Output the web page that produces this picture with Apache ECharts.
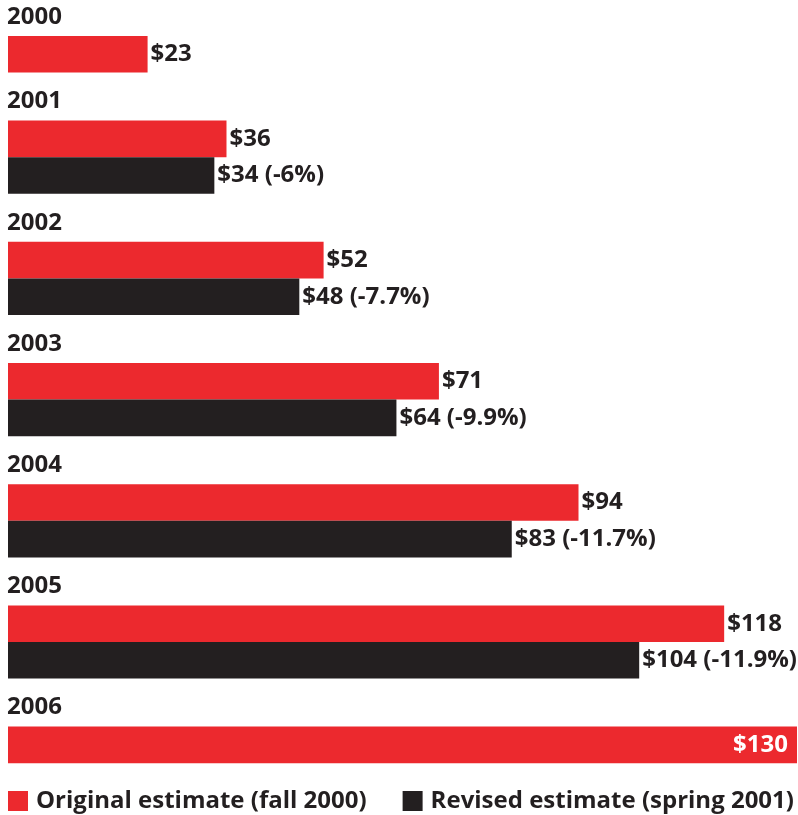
<!DOCTYPE html>
<html>
<head>
<meta charset="utf-8">
<title>Estimates by year</title>
<script src="https://cdn.jsdelivr.net/npm/echarts@6/dist/echarts.min.js"></script>
<style>
  html, body { margin: 0; padding: 0; background: #ffffff; }
  #chart { width: 798px; height: 815px; }
</style>
</head>
<body>
<div id="chart"></div>
<script>
// Values, in dollars
const years = ['2000', '2001', '2002', '2003', '2004', '2005', '2006'];
const original = [23, 36, 52, 71, 94, 118, 130];
const revised = [null, 34, 48, 64, 83, 104, null];
const revisedChange = ['', '-6%', '-7.7%', '-9.9%', '-11.7%', '-11.9%', ''];
const seriesNames = ['Original estimate (fall 2000)', 'Revised estimate (spring 2001)'];

const RED = '#ec292e';
const DARK = '#231f20';
const FONT = 'Open Sans';
const FONT_SIZE = 24;
const X_MAX = 130;

// Layout of the stacked year blocks
const BAR_H = 36.6;
const GAP_H = 48;
const FIRST_TOP = 36;
const LEFT = 8;
const RIGHT = 1;

const chart = echarts.init(document.getElementById('chart'), null, { renderer: 'canvas' });

const grids = [], xAxes = [], yAxes = [], series = [], titles = [];
let blockTop = FIRST_TOP;

years.forEach((year, i) => {
  const hasRev = revised[i] != null;
  const nBars = hasRev ? 2 : 1;
  const h = nBars * BAR_H;

  grids.push({ left: LEFT, right: RIGHT, top: blockTop, height: h, containLabel: false });
  xAxes.push({
    gridIndex: i, type: 'value', min: 0, max: X_MAX,
    show: false
  });
  // category order is bottom-to-top; the original estimate sits on top
  const cats = hasRev ? ['rev', 'orig'] : ['orig'];
  yAxes.push({
    gridIndex: i, type: 'category', data: cats,
    axisLine: { show: false }, axisTick: { show: false },
    axisLabel: { show: false }, splitLine: { show: false }
  });

  titles.push({
    text: year, left: LEFT - 1, top: blockTop - 31, padding: 0,
    textStyle: { fontFamily: FONT, fontSize: FONT_SIZE, fontWeight: 'bold', color: DARK }
  });

  const fits = original[i] < X_MAX * 0.95;
  const origItem = {
    value: original[i],
    label: fits ? {} : { position: 'insideRight', distance: 9, color: '#ffffff' }
  };
  const origData = hasRev ? ['-', origItem] : [origItem];

  series.push({
    name: seriesNames[0], type: 'bar',
    xAxisIndex: i, yAxisIndex: i,
    data: origData,
    barWidth: '100%', barGap: '-100%',
    itemStyle: { color: RED },
    label: {
      show: true, position: 'right', distance: 3,
      fontFamily: FONT, fontSize: FONT_SIZE, fontWeight: 'bold', color: DARK,
      formatter: p => '$' + p.value
    },
    silent: true
  });

  if (hasRev) {
    series.push({
      name: seriesNames[1], type: 'bar',
      xAxisIndex: i, yAxisIndex: i,
      data: [revised[i], '-'],
      barWidth: '100%', barGap: '-100%',
      itemStyle: { color: DARK },
      label: {
        show: true, position: 'right', distance: 3,
        fontFamily: FONT, fontSize: FONT_SIZE, fontWeight: 'bold', color: DARK,
        formatter: p => '$' + p.value + ' (' + revisedChange[i] + ')'
      },
      silent: true
    });
  }

  blockTop += h + GAP_H;
});

chart.setOption({
  backgroundColor: '#ffffff',
  animation: false,
  title: titles,
  grid: grids,
  xAxis: xAxes,
  yAxis: yAxes,
  series: series,
  legend: {
    data: [
      { name: seriesNames[0], itemStyle: { color: RED } },
      { name: seriesNames[1], itemStyle: { color: DARK } }
    ],
    left: LEFT, top: 789, padding: 0,
    icon: 'rect', itemWidth: 20, itemHeight: 20, itemGap: 36,
    selectedMode: false,
    textStyle: { fontFamily: FONT, fontSize: FONT_SIZE, fontWeight: 'bold', color: DARK, padding: [0, 0, 0, 3] }
  }
});
</script>
</body>
</html>
